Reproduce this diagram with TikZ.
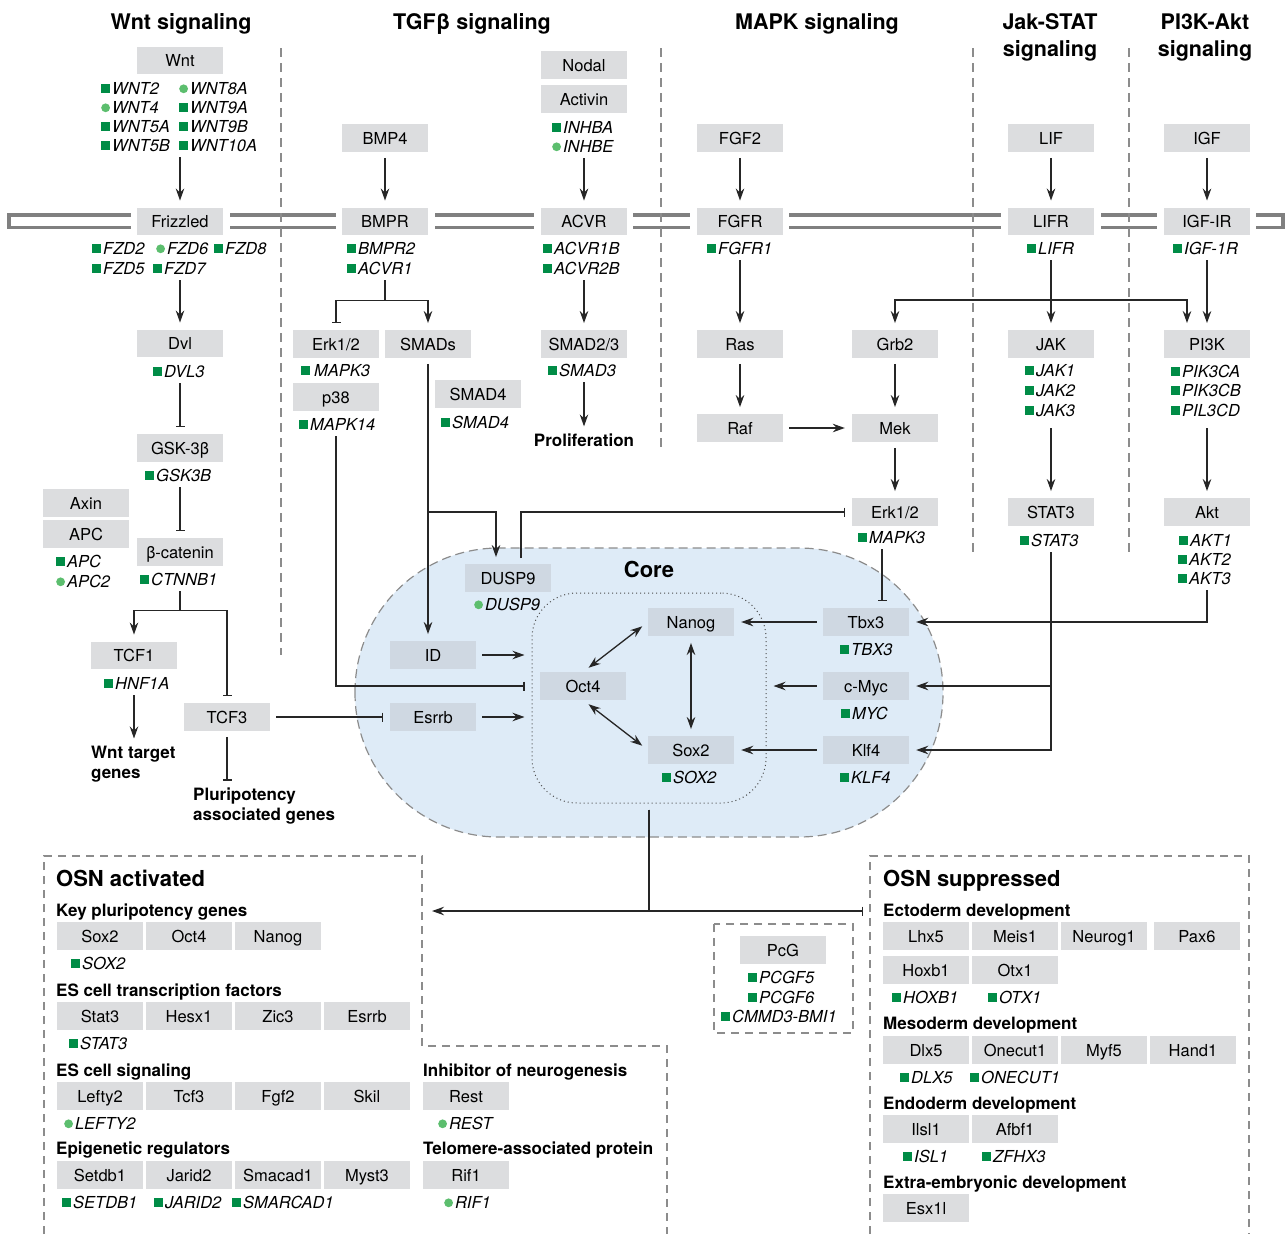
\documentclass[tikz,border=0pt]{standalone}
\usepackage{fontspec}
\setmainfont{TeX Gyre Heros}
\usepackage{tikz}
\usetikzlibrary{calc,shapes,positioning}
\usetikzlibrary{arrows.meta}
\tikzset{>={Stealth[length=12pt,width=8.5pt,inset=4pt]}}

\definecolor{boxgray}{RGB}{220,221,223}
\definecolor{coregray}{RGB}{207,216,226}
\definecolor{coreblue}{RGB}{222,235,247}
\definecolor{sqgreen}{RGB}{0,140,70}
\definecolor{cigreen}{RGB}{92,190,110}
\definecolor{linegray}{RGB}{140,140,140}

\newcommand{\lblfont}{\fontsize{16.5}{19}\selectfont}
\newcommand{\genefont}{\fontsize{16.5}{19}\selectfont\itshape}
\newcommand{\hdrfont}{\fontsize{17}{20.5}\selectfont\bfseries}
\newcommand{\secfont}{\fontsize{22}{26}\selectfont\bfseries}
\newcommand{\ttlfont}{\fontsize{21.5}{27.5}\selectfont\bfseries}
\newcommand{\sq}{{\color{sqgreen}\rule[0.8pt]{9pt}{9pt}}\hspace{2pt}}
\newcommand{\ci}{\tikz[baseline=0pt]\fill[cigreen] (4.4pt,5.2pt) circle[radius=4.4pt];\hspace{2pt}}

\begin{document}
\begin{tikzpicture}[x=1pt,y=-1pt]
          \tikzstyle{gbox} = [fill=boxgray, minimum width=86pt, minimum height=27.5pt, inner sep=0pt, font=\lblfont, text height=12pt, text depth=0pt]
          \tikzstyle{cbox} = [gbox, fill=coregray]
          \tikzstyle{gene} = [anchor=west, inner sep=0pt, font=\genefont, text height=12pt, text depth=0pt]
          \tikzstyle{hdr} = [anchor=west, inner sep=0pt, font=\hdrfont, text height=12.5pt, text depth=0pt]
          \tikzstyle{sec} = [hdr, font=\secfont, text height=15.8pt]
          \tikzstyle{outc} = [inner sep=0pt, font=\hdrfont, align=left, anchor=north west]
          \tikzstyle{ttl} = [inner sep=0pt, font=\ttlfont]
          \tikzstyle{act} = [->, draw=black!85, line width=1.3pt, shorten >=7pt, shorten <=6pt]
          \tikzstyle{inh} = [-{Bar[width=9pt]}, draw=black!85, line width=1.3pt, shorten >=7pt, shorten <=6pt]
          \tikzstyle{dact} = [<->, draw=black!85, line width=1.3pt, shorten >=7pt, shorten <=7pt]
          \tikzstyle{sepline} = [linegray, line width=1.2pt, dash pattern=on 9pt off 6pt]
          \tikzstyle{frame} = [linegray, line width=1.3pt, dash pattern=on 8pt off 6pt]
          \tikzstyle{memb} = [gray, line width=3.8pt]

          \useasboundingbox (0,0) rectangle (1287,1234);

          % core background
          \filldraw[fill=coreblue, draw=linegray, line width=1.2pt, dash pattern=on 9pt off 5pt, rounded corners=144pt] (355,548) rectangle (943,837);

          % membrane
          \draw[memb] (131,215) -- (9,215) -- (9,227.5) -- (131,227.5);
          \draw[memb] (230,215) -- (336,215);
          \draw[memb] (230,227.5) -- (336,227.5);
          \draw[memb] (435,215) -- (534,215);
          \draw[memb] (435,227.5) -- (534,227.5);
          \draw[memb] (633,215) -- (690,215);
          \draw[memb] (633,227.5) -- (690,227.5);
          \draw[memb] (789,215) -- (1001,215);
          \draw[memb] (789,227.5) -- (1001,227.5);
          \draw[memb] (1101,215) -- (1157,215);
          \draw[memb] (1101,227.5) -- (1157,227.5);
          \draw[memb] (1256,215) -- (1283,215) -- (1283,227.5) -- (1256,227.5);

          \draw[sepline] (281,48) -- (281,655);
          \draw[sepline] (661,48) -- (661,448);
          \draw[sepline] (973,48) -- (973,555);
          \draw[sepline] (1129,48) -- (1129,555);

          \node[ttl] (tWnt) at (181,23.75) {Wnt signaling};
          \node[ttl] (tTgf) at (472,23.75) {TGFβ signaling};
          \node[ttl] (tMapk) at (817,23.75) {MAPK signaling};
          \node[ttl, align=center] (tJak) at (1050,37.5) {Jak-STAT\\signaling};
          \node[ttl, align=center] (tPi3k) at (1205,37.5) {PI3K-Akt\\signaling};

          % Wnt
          \node[gbox] (wnt) at (180,60.5) {Wnt};
          \node[gene] (wnt2) at (101,88) {\sq WNT2};
          \node[gene] (wnt4) at (101,107) {\ci WNT4};
          \node[gene] (wnt5a) at (101,126) {\sq WNT5A};
          \node[gene] (wnt5b) at (101,145) {\sq WNT5B};
          \node[gene] (wnt8a) at (179,88) {\ci WNT8A};
          \node[gene] (wnt9a) at (179,107) {\sq WNT9A};
          \node[gene] (wnt9b) at (179,126) {\sq WNT9B};
          \node[gene] (wnt10a) at (179,145) {\sq WNT10A};
          \node[gbox] (fzd) at (180,221.5) {Frizzled};
          \node[gene] (fzd2) at (92,248) {\sq FZD2};
          \node[gene] (fzd6) at (156,248) {\ci FZD6};
          \node[gene] (fzd8) at (214,248) {\sq FZD8};
          \node[gene] (fzd5) at (92,268) {\sq FZD5};
          \node[gene] (fzd7) at (153,268) {\sq FZD7};
          \node[gbox] (dvl) at (180,343.5) {Dvl};
          \node[gene] (dvl3) at (153,371) {\sq DVL3};
          \node[gbox] (gsk) at (180,448) {GSK-3β};
          \node[gene] (gsk3b) at (145,475) {\sq GSK3B};
          \node[gbox] (axin) at (86,503) {Axin};
          \node[gbox] (apc) at (86,534) {APC};
          \node[gene] (apcg) at (56,561) {\sq APC};
          \node[gene] (apc2) at (56,581) {\ci APC2};
          \node[gbox] (bcat) at (180,552) {β-catenin};
          \node[gene] (ctnnb1) at (140,579) {\sq CTNNB1};
          \node[gbox] (tcf1) at (134,655.5) {TCF1};
          \node[gene] (hnf1a) at (104,683) {\sq HNF1A};
          \node[gbox] (tcf3) at (227,717) {TCF3};
          \node[outc] (wtg) at (91,745.5) {Wnt target\\genes};
          \node[outc] (plu) at (193,787.5) {Pluripotency\\associated genes};

          % TGFb
          \node[gbox] (bmp4) at (385,138) {BMP4};
          \node[gbox] (bmpr) at (385,221.5) {BMPR};
          \node[gene] (bmpr2) at (347,248) {\sq BMPR2};
          \node[gene] (acvr1) at (347,268) {\sq ACVR1};
          \node[gbox] (erkT) at (336,344) {Erk1/2};
          \node[gene] (mapk3T) at (301,370) {\sq\hspace{2pt}MAPK3};
          \node[gbox] (p38) at (336,397) {p38};
          \node[gene] (mapk14) at (299,424) {\sq MAPK14};
          \node[gbox] (smads) at (428,344) {SMADs};
          \node[gbox] (smad4) at (478,394) {SMAD4};
          \node[gene] (smad4g) at (441,422) {\sq SMAD4};
          \node[gbox] (nodal) at (584,65) {Nodal};
          \node[gbox] (activin) at (584,99) {Activin};
          \node[gene] (inhba) at (552,127) {\sq INHBA};
          \node[gene] (inhbe) at (552,146) {\ci INHBE};
          \node[gbox] (acvr) at (584,221.5) {ACVR};
          \node[gene] (acvr1b) at (543,248) {\sq ACVR1B};
          \node[gene] (acvr2b) at (543,268) {\sq ACVR2B};
          \node[gbox] (smad23) at (584,344) {SMAD2/3};
          \node[gene] (smad3) at (548,370) {\sq SMAD3};
          \node[outc, anchor=center] (prolif) at (584,440) {Proliferation};

          % MAPK
          \node[gbox] (fgf2) at (740,138) {FGF2};
          \node[gbox] (fgfr) at (740,221.5) {FGFR};
          \node[gene] (fgfr1) at (707,248) {\sq FGFR1};
          \node[gbox] (ras) at (740,344) {Ras};
          \node[gbox] (raf) at (740,428) {Raf};
          \node[gbox] (grb2) at (895,344) {Grb2};
          \node[gbox] (mek) at (895,428) {Mek};
          \node[gbox] (erkM) at (895,512) {Erk1/2};
          \node[gene] (mapk3M) at (858,537) {\sq MAPK3};

          % Jak-STAT
          \node[gbox] (lif) at (1051,138) {LIF};
          \node[gbox] (lifr) at (1051,221.5) {LIFR};
          \node[gene] (lifrg) at (1027,248) {\sq LIFR};
          \node[gbox] (jak) at (1051,344) {JAK};
          \node[gene] (jak1) at (1025,370) {\sq JAK1};
          \node[gene] (jak2) at (1025,390) {\sq JAK2};
          \node[gene] (jak3) at (1025,410) {\sq JAK3};
          \node[gbox] (stat3) at (1051,512) {STAT3};
          \node[gene] (stat3g) at (1020,540) {\sq STAT3};

          % PI3K-Akt
          \node[gbox] (igf) at (1207,138) {IGF};
          \node[gbox] (igfr) at (1207,221.5) {IGF-IR};
          \node[gene] (igf1r) at (1173,248) {\sq IGF-1R};
          \node[gbox] (pi3k) at (1207,344) {PI3K};
          \node[gene] (pik3ca) at (1171,371) {\sq PIK3CA};
          \node[gene] (pik3cb) at (1171,390) {\sq PIK3CB};
          \node[gene] (pil3cd) at (1171,410) {\sq PIL3CD};
          \node[gbox] (akt) at (1207,512) {Akt};
          \node[gene] (akt1) at (1179,540) {\sq AKT1};
          \node[gene] (akt2) at (1178,559) {\sq AKT2};
          \node[gene] (akt3) at (1178,578) {\sq AKT3};

          % core
          \node[ttl, font=\secfont, text depth=0pt] (core) at (649,569) {Core};
          \node[draw=black!70, line width=1pt, dash pattern=on 1pt off 3pt, rounded corners=45pt, minimum width=234pt, minimum height=210pt, inner sep=0pt] (osn) at (649,698) {};
          \node[cbox] (dusp9) at (508,578) {DUSP9};
          \node[gene] (dusp9g) at (474,604) {\ci DUSP9};
          \node[cbox] (id) at (433,655) {ID};
          \node[cbox] (esrrb) at (433,717) {Esrrb};
          \node[cbox] (nanog) at (691,622) {Nanog};
          \node[cbox] (oct4) at (583,686) {Oct4};
          \node[cbox] (sox2) at (691,750) {Sox2};
          \node[gene] (sox2g) at (662,777) {\sq SOX2};
          \node[cbox] (tbx3) at (866,622) {Tbx3};
          \node[gene] (tbx3g) at (840,649) {\sq TBX3};
          \node[cbox] (myc) at (866,686) {c-Myc};
          \node[gene] (mycg) at (841,713) {\sq MYC};
          \node[cbox] (klf4) at (866,750) {Klf4};
          \node[gene] (klf4g) at (840,777) {\sq KLF4};

          % connectors
          \draw[act] (wnt10a.south -| wnt) -- (fzd);
          \draw[act] (fzd7.south -| fzd) -- (dvl);
          \draw[inh] (dvl3.south -| dvl) -- (gsk);
          \draw[inh] (gsk3b.south -| gsk) -- (bcat);
          \draw[act] (ctnnb1.south -| bcat) -- ++(0,25) -| (tcf1);
          \draw[inh] (ctnnb1.south -| bcat) -- ++(0,25) -| (tcf3);
          \draw[act] (hnf1a.south -| tcf1) -- (tcf1 |- wtg.north);
          \draw[inh] (tcf3) -- (tcf3 |- plu.north);
          \draw[inh] (tcf3) -- (esrrb);

          \draw[act] (bmp4) -- (bmpr);
          \draw[inh] (acvr1.south -| bmpr) -- ++(0,26) -| (erkT);
          \draw[act] (acvr1.south -| bmpr) -- ++(0,26) -| (smads);
          \draw[inh] (mapk14.south -| p38) |- (oct4 -| osn.west);
          \draw[act] (smads) -- (smads |- id.north);
          \coordinate (smadsbr) at (smads |- erkM);
          \draw[act, shorten <=0pt] (smadsbr) -| ([xshift=-12pt]dusp9.north);
          \draw[inh] ([xshift=13pt]dusp9.north) |- (erkM);
          \draw[act] (inhbe.south -| acvr) -- (acvr);
          \draw[act] (acvr2b.south -| acvr) -- (smad23);
          \draw[act] (smad3.south -| smad23) -- (prolif);

          \draw[act] (fgf2) -- (fgfr);
          \draw[act] (fgfr1.south -| fgfr) -- (ras);
          \draw[act] (ras) -- (raf);
          \draw[act] (raf) -- (mek);
          \draw[act] (grb2) -- (mek);
          \draw[act] (mek) -- (erkM);
          \draw[inh] ([xshift=16pt]tbx3.north) ++(0,-65) -- ([xshift=16pt]tbx3.north);

          \draw[act] (lif) -- (lifr);
          \draw[act] (lifrg.south -| lifr) -- (jak);
          \coordinate (lifrbr) at (1051,300);
          \draw[act, shorten <=0pt] (lifrbr) -| (grb2);
          \draw[act, shorten <=0pt] (lifrbr) -| ([xshift=-20pt]pi3k.north);
          \draw[act, shorten <=12pt] (jak3.south -| jak) -- (stat3);
          \draw[act] (stat3g.south -| stat3) |- (klf4);
          \draw[act, shorten <=0pt] (stat3 |- myc) -- (myc);

          \draw[act] (igf) -- (igfr);
          \draw[act] (igf1r.south -| igfr) -- (pi3k);
          \draw[act, shorten <=12pt] (pil3cd.south -| pi3k) -- (akt);
          \draw[act] (akt3.south -| akt) |- (tbx3);

          \draw[act] (tbx3) -- (nanog);
          \draw[act] (myc) -- (myc -| osn.east);
          \draw[act] (klf4) -- (sox2);
          \draw[act] (id) -- (id -| osn.west);
          \draw[act] (esrrb) -- (esrrb -| osn.west);
          \draw[dact] (oct4.north) -- (nanog.west);
          \draw[dact] (oct4.south) -- (sox2.west);
          \draw[dact] (nanog) -- (sox2);

          % OSN activated
          \draw[frame] (44,1234) -- (44,856) -- (422,856) -- (422,1046) -- (667,1046) -- (667,1234);
          \node[sec] (osnact) at (56,879) {OSN activated};
          \node[hdr] (kpg) at (56,910) {Key pluripotency genes};
          \node[gbox] (aSox2) at (100,936) {Sox2};
          \node[gbox] (aOct4) at (189,936) {Oct4};
          \node[gbox] (aNanog) at (278,936) {Nanog};
          \node[gene] (aSOX2) at (71,963) {\sq SOX2};
          \node[hdr] (estf) at (56,990) {ES cell transcription factors};
          \node[gbox] (aStat3) at (100,1016) {Stat3};
          \node[gbox] (aHesx1) at (189,1016) {Hesx1};
          \node[gbox] (aZic3) at (278,1016) {Zic3};
          \node[gbox] (aEsrrb) at (367,1016) {Esrrb};
          \node[gene] (aSTAT3) at (69,1043) {\sq STAT3};
          \node[hdr] (essig) at (56,1070) {ES cell signaling};
          \node[gbox] (aLefty2) at (100,1096) {Lefty2};
          \node[gbox] (aTcf3) at (189,1096) {Tcf3};
          \node[gbox] (aFgf2) at (278,1096) {Fgf2};
          \node[gbox] (aSkil) at (367,1096) {Skil};
          \node[gene] (aLEFTY2) at (64,1123) {\ci LEFTY2};
          \node[hdr] (epi) at (56,1148) {Epigenetic regulators};
          \node[gbox] (aSetdb1) at (100,1175) {Setdb1};
          \node[gbox] (aJarid2) at (189,1175) {Jarid2};
          \node[gbox] (aSmacad1) at (278,1175) {Smacad1};
          \node[gbox] (aMyst3) at (367,1175) {Myst3};
          \node[gene] (aSETDB1) at (62,1202) {\sq SETDB1};
          \node[gene] (aJARID2) at (154,1202) {\sq JARID2};
          \node[gene] (aSMARCAD1) at (232,1202) {\sq SMARCAD1};
          \node[hdr] (inhneu) at (423,1070) {Inhibitor of neurogenesis};
          \node[gbox] (aRest) at (466,1096) {Rest};
          \node[gene] (aREST) at (438,1123) {\ci REST};
          \node[hdr] (telo) at (423,1148) {Telomere-associated protein};
          \node[gbox] (aRif1) at (466,1175) {Rif1};
          \node[gene] (aRIF1) at (444,1202) {\ci RIF1};

          % PcG
          \draw[frame] (714,924) rectangle (853,1033);
          \node[gbox] (pcg) at (783,950) {PcG};
          \node[gene] (pcgf5) at (748,977) {\sq PCGF5};
          \node[gene] (pcgf6) at (748,997) {\sq PCGF6};
          \node[gene] (bmi1) at (721,1016) {\sq CMMD3-BMI1};

          % OSN suppressed
          \draw[frame] (870,1234) -- (870,856) -- (1249,856) -- (1249,1234);
          \node[sec] (osnsup) at (883,879) {OSN suppressed};
          \node[hdr] (ecto) at (883,910) {Ectoderm development};
          \node[gbox] (sLhx5) at (926,936) {Lhx5};
          \node[gbox] (sMeis1) at (1015,936) {Meis1};
          \node[gbox] (sNeurog1) at (1104,936) {Neurog1};
          \node[gbox] (sPax6) at (1197,936) {Pax6};
          \node[gbox] (sHoxb1) at (926,970) {Hoxb1};
          \node[gbox] (sOtx1) at (1015,970) {Otx1};
          \node[gene] (sHOXB1) at (892,997) {\sq HOXB1};
          \node[gene] (sOTX1) at (988,997) {\sq OTX1};
          \node[hdr] (meso) at (883,1023) {Mesoderm development};
          \node[gbox] (sDlx5) at (926,1050) {Dlx5};
          \node[gbox] (sOnecut1) at (1015,1050) {Onecut1};
          \node[gbox] (sMyf5) at (1104,1050) {Myf5};
          \node[gbox] (sHand1) at (1193,1050) {Hand1};
          \node[gene] (sDLX5) at (900,1077) {\sq DLX5};
          \node[gene] (sONECUT1) at (970,1077) {\sq ONECUT1};
          \node[hdr] (endo) at (883,1103) {Endoderm development};
          \node[gbox] (sIlsl1) at (926,1129) {Ilsl1};
          \node[gbox] (sAfbf1) at (1015,1129) {Afbf1};
          \node[gene] (sISL1) at (903,1156) {\sq ISL1};
          \node[gene] (sZFHX3) at (982,1156) {\sq ZFHX3};
          \node[hdr] (extra) at (883,1182) {Extra-embryonic development};
          \node[gbox] (sEsx1l) at (926,1208) {Esx1l};

          \coordinate (actedge) at (422,911);
          \coordinate (supedge) at (870,911);
          \draw[act, shorten >=10pt] (osn.south) |- (actedge);
          \draw[inh] (osn.south) |- (supedge);
        \end{tikzpicture}
\end{document}
